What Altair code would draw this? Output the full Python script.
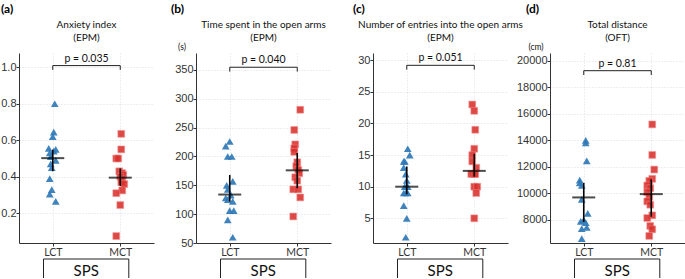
import altair as alt
import pandas as pd

W, H = 135, 190
GROUPS = ["LCT", "MCT"]
BLUE = "#2f78b7"
RED = "#d9302c"

# ---- panel (a) Anxiety index
A_LCT = [0.80, 0.645, 0.62, 0.555, 0.55, 0.54, 0.51, 0.49, 0.47, 0.45, 0.39, 0.33, 0.305, 0.265, 0.53]
A_LCT_JIT = [2, 1, 0, -4, 3, 1, -2, 3, -2, -1, -3, -1, -3, 3, -3]
A_MCT = [0.635, 0.55, 0.50, 0.50, 0.43, 0.42, 0.41, 0.40, 0.385, 0.37, 0.36, 0.325, 0.31, 0.245, 0.075]
A_MCT_JIT = [1, 1, -4, -2, -1, 2, 3, 0, 2, 1, 4, 2, -4, 0, -4]
A_CENTER = [0.502, 0.395]
A_LO = [0.43, 0.35]
A_HI = [0.548, 0.445]

# ---- panel (b) Time spent in the open arms
B_LCT = [226, 218, 200, 200, 157, 150, 143, 133, 128, 125, 122, 106, 106, 90, 60]
B_LCT_JIT = [0, -4, -2, 2, 3, -3, -2, 1, -4, -2, 3, 0, 4, -2, 3]
B_MCT = [281, 246, 221, 214, 208, 190, 183, 177, 171, 164, 158, 143, 143, 129, 96]
B_MCT_JIT = [3, -3, -2, -3, -3, 0, -1, 1, 2, -2, 0, -4, 1, 3, -4]
B_CENTER = [134, 176]
B_LO = [122, 145]
B_HI = [168, 206]

# ---- panel (c) Number of entries into the open arms
C_LCT = [16, 15, 14, 14, 13, 12, 11, 10, 10, 9, 9, 9, 7, 5, 2]
C_LCT_JIT = [1, 3, -3, -2, -3, -1, 0, -2, 1, -3, 1, -1, -3, 0, -1]
C_MCT = [23, 22, 19, 16, 15, 14, 13, 12, 12, 12, 10, 10, 9, 5]
C_MCT_JIT = [-2, 0, 1, 0, -2, -2, 2, 0, -3, 1, 0, 3, 2, 0]
C_CENTER = [10, 12.5]
C_LO = [8.8, 11.6]
C_HI = [13.2, 15.2]

# ---- panel (d) Total distance
D_LCT = [14000, 13800, 12450, 11000, 10800, 10600, 9550, 8500, 8000, 7900, 7800, 7450, 7350, 6600]
D_LCT_JIT = [2, 2, 3, -4, -4, -2, -2, 4, 0, -3, 2, 3, -2, -2]
D_MCT = [15200, 12900, 11800, 11100, 10950, 10600, 10400, 10100, 9750, 9400, 9150, 8350, 8150, 7550, 7300, 6800]
D_MCT_JIT = [1, 1, 3, 1, -2, -4, -1, -4, -2, -4, -1, 1, -4, -1, 1, -2]
D_CENTER = [9700, 9950]
D_LO = [7850, 8250]
D_HI = [10800, 11050]

PANELS = [
    dict(tag="(a)", tagx=-18, title=["Anxiety index", "(EPM)"], unit="",
         lct=A_LCT, lj=A_LCT_JIT, mct=A_MCT, mj=A_MCT_JIT,
         center=A_CENTER, lo=A_LO, hi=A_HI, p="p = 0.035", br=1.009,
         domain=[0.037, 1.078], ticks=[0.2, 0.4, 0.6, 0.8, 1.0], fmt=".1f"),
    dict(tag="(b)", tagx=-25, title=["Time spent in the open arms", "(EPM)"], unit="(s)",
         lct=B_LCT, lj=B_LCT_JIT, mct=B_MCT, mj=B_MCT_JIT,
         center=B_CENTER, lo=B_LO, hi=B_HI, p="p = 0.040", br=354.7,
         domain=[50, 379.4], ticks=[50, 100, 150, 200, 250, 300, 350], fmt="d"),
    dict(tag="(c)", tagx=-20, title=["Number of entries into the open arms", "(EPM)"], unit="",
         lct=C_LCT, lj=C_LCT_JIT, mct=C_MCT, mj=C_MCT_JIT,
         center=C_CENTER, lo=C_LO, hi=C_HI, p="p = 0.051", br=29.2,
         domain=[1.09, 31.15], ticks=[5, 10, 15, 20, 25, 30], fmt="d"),
    dict(tag="(d)", tagx=-24, title=["Total distance", "(OFT)"], unit="(cm)",
         lct=D_LCT, lj=D_LCT_JIT, mct=D_MCT, mj=D_MCT_JIT,
         center=D_CENTER, lo=D_LO, hi=D_HI, p="p = 0.81", br=19247,
         domain=[6267, 20580], ticks=[8000, 10000, 12000, 14000, 16000, 18000, 20000], fmt="d"),
]

PX_PER_UNIT = W / 2.0
BOX_L, BOX_R = 24.5, 109.8
ONE = pd.DataFrame({"k": [0]})


def label(text, x, y, size, weight="normal", align="center", color="#111", font="Lato", baseline="middle"):
    return alt.Chart(ONE).mark_text(
        text=text, fontSize=size, fontWeight=weight, align=align, baseline=baseline,
        color=color, font=font
    ).encode(x=alt.value(x), y=alt.value(y))


def panel(P, first):
    rows = []
    for gi, vals, jit in ((1, P["lct"], P["lj"]), (2, P["mct"], P["mj"])):
        for v, j in zip(vals, jit):
            rows.append({"g": gi + j / PX_PER_UNIT, "v": v, "grp": GROUPS[gi - 1]})
    pts = pd.DataFrame(rows)

    xs = alt.Scale(domain=[0.5, 2.5], nice=False, zero=False)
    ys = alt.Scale(domain=P["domain"], nice=False, zero=False)
    xax = alt.Axis(values=[1, 2], labelExpr="datum.value == 1 ? 'LCT' : 'MCT'", title=None)
    yax = alt.Axis(values=P["ticks"], format=P["fmt"], title=None)
    X = alt.X("g:Q", scale=xs, axis=xax)
    Y = alt.Y("v:Q", scale=ys, axis=yax)

    tri = alt.Chart(pts).transform_filter("datum.grp == 'LCT'").mark_point(
        shape="triangle-up", filled=True, color=BLUE, size=60, opacity=0.92
    ).encode(x=X, y=Y)
    sq = alt.Chart(pts).transform_filter("datum.grp == 'MCT'").mark_point(
        shape="square", filled=True, color=RED, size=46, opacity=0.88,
        stroke="#f08080", strokeWidth=0.6
    ).encode(x=X, y=Y)

    summ = pd.DataFrame({"g": [1, 2], "v": P["center"], "lo": P["lo"], "hi": P["hi"]})
    mean_tick = alt.Chart(summ).mark_tick(
        orient="horizontal", size=23, thickness=2, color="#000"
    ).encode(x=X, y=Y)
    err = alt.Chart(summ).mark_rule(color="#000", strokeWidth=1.6).encode(
        x=X, y=alt.Y("lo:Q", scale=ys, axis=yax), y2="hi:Q"
    )

    d = 4.3 * (P["domain"][1] - P["domain"][0]) / H
    br = P["br"]
    brk = pd.DataFrame({
        "g": [1, 1, 2], "g2": [2, 1, 2],
        "v": [br, br, br], "v2": [br, br - d, br - d],
    })
    bracket = alt.Chart(brk).mark_rule(color="#222", strokeWidth=1).encode(
        x=X, x2="g2:Q", y=Y, y2="v2:Q"
    )
    ptxt = alt.Chart(pd.DataFrame({"g": [1.5], "v": [br], "t": [P["p"]]})).mark_text(
        font="Lato", fontSize=10.5, baseline="alphabetic", dy=-4, color="#111"
    ).encode(x=X, y=Y, text="t:N")

    layers = [tri, sq, err, mean_tick, bracket, ptxt]

    layers.append(label(P["title"][0], W / 2, -28, 10))
    layers.append(label(P["title"][1], W / 2, -15.5, 10))
    layers.append(label(P["tag"], P["tagx"], -44, 12, weight="bold", align="left", color="#000"))
    if P["unit"]:
        layers.append(label(P["unit"], -14, -6.5, 8.5))

    # SPS box (open at the bottom edge)
    box = pd.DataFrame({"k": [0]})
    top_y, bot_y = H + 16, H + 35
    layers.append(alt.Chart(box).mark_rule(color="#222", strokeWidth=1).encode(
        x=alt.value(BOX_L), x2=alt.value(BOX_R), y=alt.value(top_y)))
    layers.append(alt.Chart(box).mark_rule(color="#222", strokeWidth=1).encode(
        x=alt.value(BOX_L), y=alt.value(top_y), y2=alt.value(bot_y)))
    layers.append(alt.Chart(box).mark_rule(color="#222", strokeWidth=1).encode(
        x=alt.value(BOX_R), y=alt.value(top_y), y2=alt.value(bot_y)))
    layers.append(label("SPS", (BOX_L + BOX_R) / 2, H + 27.5, 15, color="#111"))

    if first:
        layers.append(alt.Chart(box).mark_rule(strokeOpacity=0, strokeWidth=0.1).encode(
            x=alt.value(-18), y=alt.value(-53), y2=alt.value(-52)))

    return alt.layer(*layers).properties(width=W, height=H)


charts = [panel(P, i == 0) for i, P in enumerate(PANELS)]

chart = alt.hconcat(*charts, spacing=42, bounds="flush").properties(
    padding=0
).configure_view(strokeWidth=0).configure_axis(
    grid=True, gridColor="#d4d4d4", gridDash=[1, 2], gridWidth=0.8,
    domainColor="#333", domainWidth=1, tickColor="#333", tickSize=3,
    labelColor="#333", labelFontSize=11, labelFont="Liberation Sans", labelPadding=0,
).configure_axisX(
    labelFont="Lato", labelFontSize=10.5, labelPadding=1
)

chart.save("out.html", embed_options={"renderer": "svg", "actions": False})
